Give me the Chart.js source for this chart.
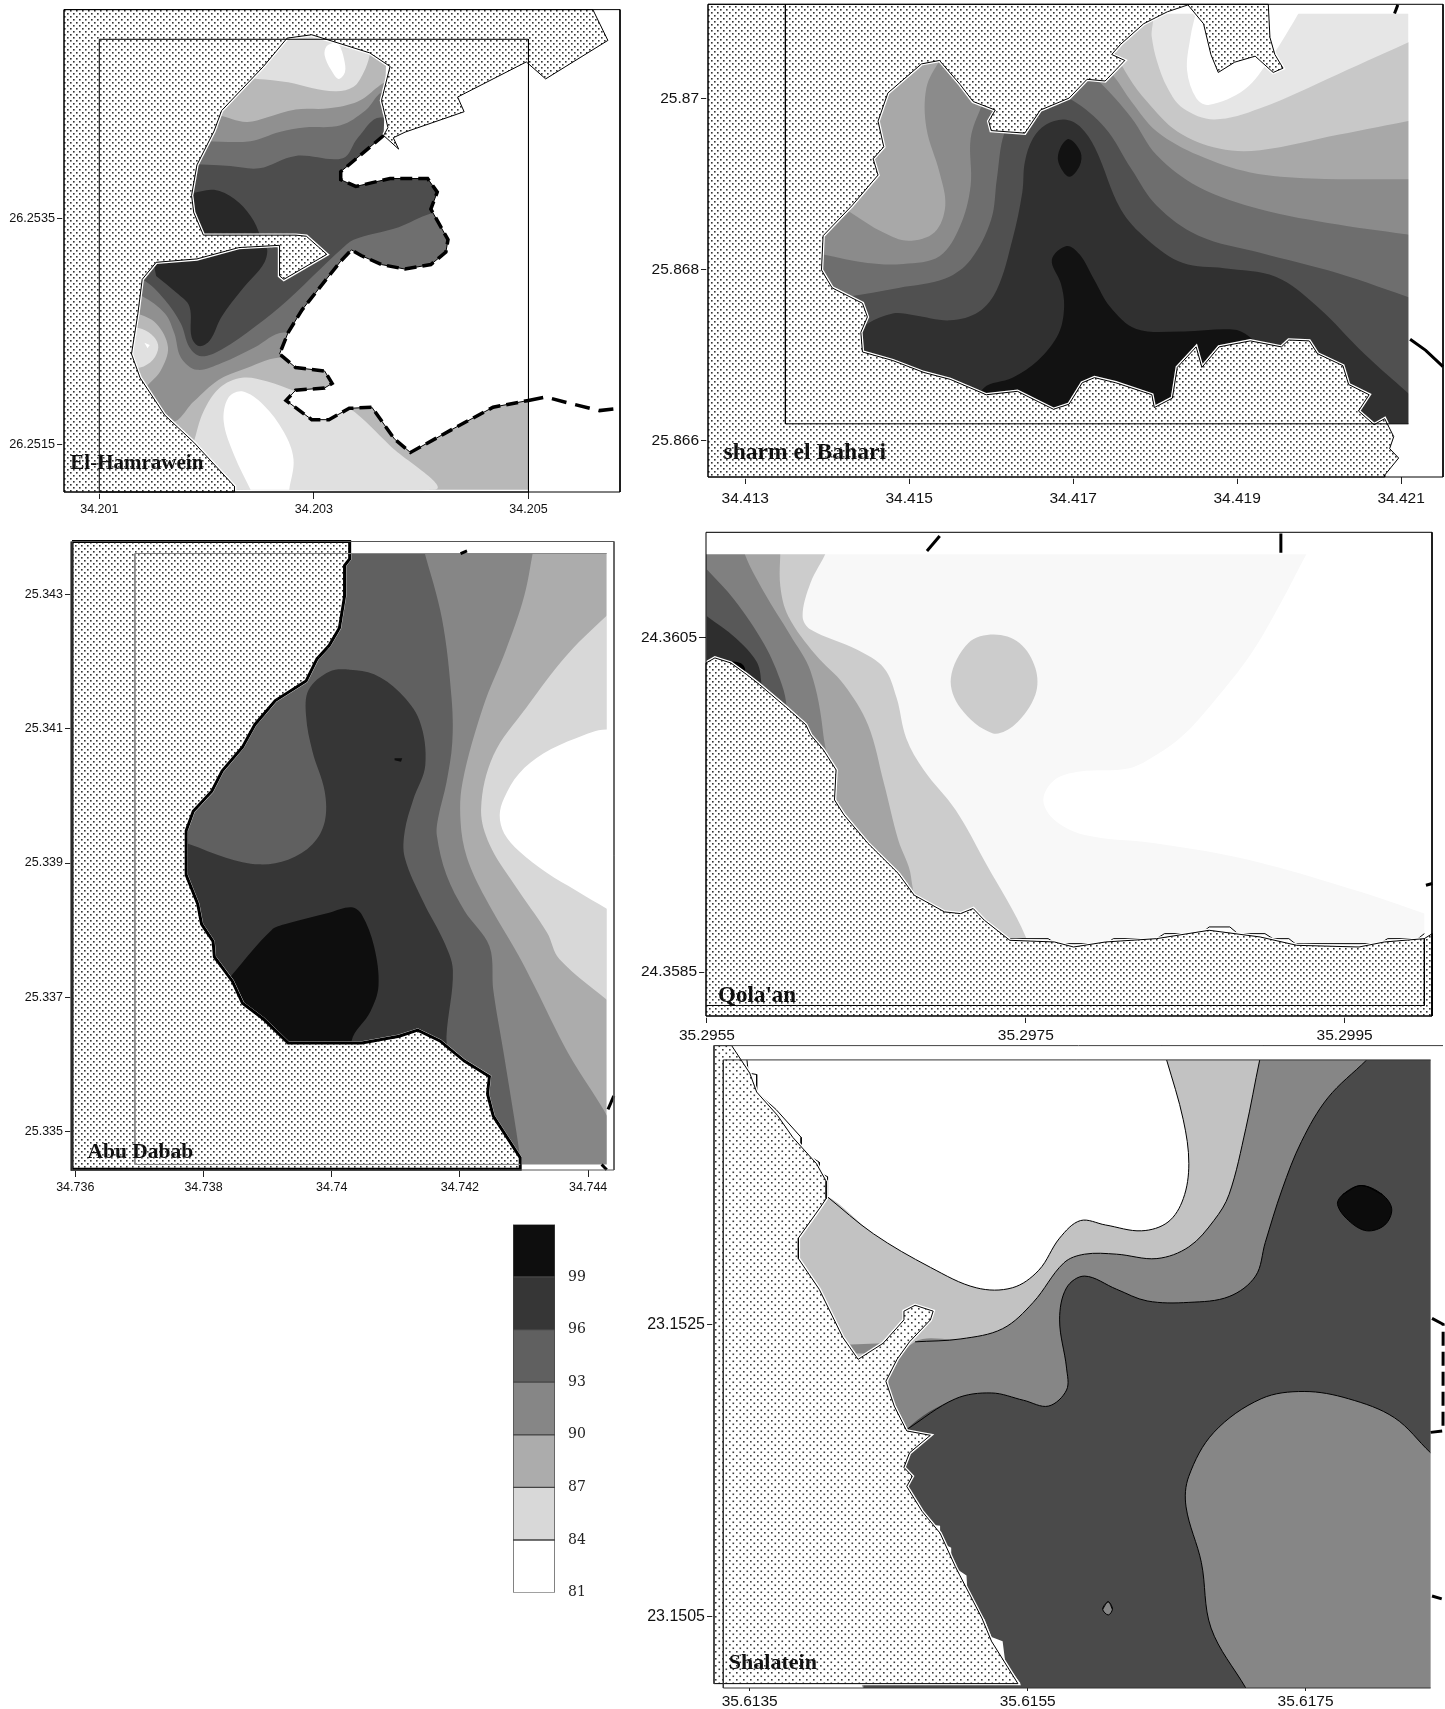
<!DOCTYPE html>
<html><head><meta charset="utf-8">
<script src="https://cdn.jsdelivr.net/npm/chart.js@4"></script>
<style>html,body{margin:0;padding:0;background:#fff;width:1445px;height:1709px;overflow:hidden}canvas{position:absolute}</style>
</head><body>
<script>
// All shape values: [lon, lat] in thousandths of a degree from each map's base point.
// ---------- El-Hamrawein ----------
const hamLonTicks=['34.201','34.203','34.205'], hamLatTicks=['26.2515','26.2535'];
const hamLand=[[.671,5.342],[5.6,5.342],[5.74,5.07],[5.16,4.73],[4.98,4.88],[4.34,4.57],[4.4,4.44],[3.85,4.26],[3.74,4.21],[3.79,4.11],[3.65,4.23],[3.69,4.3],[3.63,4.54],[3.71,4.84],[3.52,4.96],[2.98,5.12],[2.75,5.09],[2.53,4.84],[2.14,4.45],[2.07,4.27],[1.91,3.97],[1.86,3.7],[1.88,3.55],[1.97,3.35],[2.83,3.35],[2.93,3.34],[3.12,3.18],[2.72,2.96],[2.68,2.99],[2.68,3.26],[2.3,3.24],[1.91,3.14],[1.53,3.11],[1.4,2.96],[1.36,2.66],[1.3,2.3],[1.38,2.09],[1.61,1.76],[1.88,1.52],[2.26,1.13],[2.26,1.081],[.671,1.081]];
const hamCoast=[[3.65,4.23],[3.25,3.91],[3.25,3.84],[3.39,3.78],[3.71,3.85],[4.06,3.85],[4.15,3.73],[4.09,3.58],[4.25,3.31],[4.23,3.2],[4.09,3.09],[3.85,3.05],[3.63,3.09],[3.44,3.17],[3.35,3.22],[3.25,3.12],[3.04,2.87],[2.89,2.69],[2.76,2.49],[2.68,2.3],[2.83,2.18],[3.1,2.15],[3.17,2.04],[3.1,2],[2.83,1.98],[2.74,1.89],[2.98,1.72],[3.14,1.72],[3.33,1.82],[3.54,1.83],[3.75,1.55],[3.9,1.43],[4.28,1.63],[4.67,1.83],[5,1.89]];
const hamCoastEast=[[5,1.89],[5.16,1.92],[5.36,1.87],[5.66,1.8],[5.853,1.82]];
const hamSeaClosure=[[5,1.081],[5.853,1.081],[5.853,5.342],[3.69,5.342]];
const hamBase=[[1.23,5.23],[5,5.23],[5,1.1],[1.23,1.1]];
const hamN84=[[2.22,4.72],[2.47,4.73],[2.76,4.7],[2.98,4.65],[3.21,4.62],[3.37,4.66],[3.46,4.78],[3.52,4.94],[3.54,5.14],[2.76,5.2],[2.22,5.11]];
const hamNWhite=[[3.2,5.05],[3.12,5.02],[3.1,4.94],[3.16,4.81],[3.23,4.73],[3.29,4.79],[3.28,4.91],[3.24,5.02]];
const hamS84=[[1.88,1.52],[1.97,1.79],[2.12,2],[2.33,2.09],[2.56,2.06],[2.83,1.97],[3.14,1.86],[3.33,1.82],[3.71,1.49],[4.13,1.1],[1.76,1.1]];
const hamSWhite=[[2.41,1.1],[2.26,1.4],[2.16,1.7],[2.2,1.91],[2.33,1.97],[2.53,1.85],[2.72,1.61],[2.81,1.37],[2.77,1.1]];
const hamW84=[[1.26,2.54],[1.4,2.52],[1.51,2.45],[1.55,2.36],[1.5,2.25],[1.38,2.18],[1.24,2.18]];
const hamWWhite=[[1.42,2.4],[1.47,2.38],[1.45,2.35]];
const ham90=[[1.99,4.42],[2.11,4.41],[2.37,4.35],[2.56,4.39],[2.83,4.46],[3.14,4.47],[3.41,4.53],[3.75,4.72],[5.05,4.51],[5.05,2.42],[2.68,2.27],[2.33,2.16],[2.11,2.07],[1.88,1.88],[1.68,1.7],[1.38,1.91],[1.44,2.01],[1.57,2.15],[1.64,2.36],[1.53,2.57],[1.34,2.66],[1.03,2.72],[1.03,4.39]];
const ham93=[[1.99,4.18],[2.41,4.18],[2.68,4.26],[2.91,4.3],[3.25,4.32],[3.48,4.45],[3.67,4.62],[5.05,4.51],[5.05,2.42],[2.72,2.49],[2.45,2.36],[2.14,2.22],[1.91,2.16],[1.76,2.27],[1.7,2.48],[1.61,2.66],[1.4,2.81],[1.03,2.96],[1.03,4.15]];
const ham96=[[1.8,3.98],[2.22,3.96],[2.49,3.94],[2.83,4.05],[3.27,4.03],[3.41,4.21],[3.62,4.39],[4.28,4.21],[4.48,3.61],[4.09,3.54],[3.79,3.42],[3.37,3.31],[3.25,3.22],[3.06,3.05],[2.76,2.78],[2.45,2.54],[2.14,2.34],[1.95,2.28],[1.84,2.36],[1.76,2.57],[1.61,2.78],[1.4,2.96],[1.03,3.08],[1.03,3.97]];
const ham99N=[[1.72,3.7],[1.86,3.72],[2.07,3.75],[2.26,3.67],[2.41,3.52],[2.5,3.34],[2.5,3.25],[1.72,3.25]];
const ham99S=[[1.49,3.17],[2.54,3.25],[2.54,3.11],[2.33,2.87],[2.14,2.63],[2.03,2.42],[1.93,2.37],[1.86,2.45],[1.84,2.72],[1.72,2.84],[1.53,2.99]];
const hamGrid=[[1,5.08],[5,5.08],[5,1.081],[1,1.081],[1,5.08]];
// ---------- Sharm el Bahari ----------
const shaLonTicks=['34.413','34.415','34.417','34.419','34.421'], shaLatTicks=['25.866','25.868','25.87'];
const shaLand=[[2.546,11.107],[9.38,11.107],[9.4,10.72],[9.46,10.52],[9.56,10.36],[9.44,10.31],[9.22,10.5],[8.97,10.43],[8.77,10.31],[8.68,10.52],[8.59,10.88],[8.4,11.1],[8.15,11.02],[7.86,10.88],[7.58,10.64],[7.47,10.52],[7.63,10.45],[7.39,10.21],[7.17,10.23],[6.95,10.01],[6.6,9.87],[6.41,9.6],[6,9.63],[5.97,9.74],[6.05,9.87],[5.78,9.97],[5.62,10.17],[5.37,10.45],[5.15,10.41],[4.74,10.07],[4.62,9.74],[4.69,9.44],[4.56,9.3],[4.62,9.11],[4.3,8.75],[3.95,8.4],[3.93,8],[4.06,7.79],[4.43,7.61],[4.49,7.45],[4.41,7.27],[4.43,7.04],[4.8,6.94],[5.18,6.8],[5.5,6.72],[5.94,6.54],[6.32,6.58],[6.76,6.37],[6.95,6.43],[7.11,6.68],[7.26,6.74],[7.52,6.68],[7.96,6.54],[7.99,6.39],[8.21,6.5],[8.27,6.86],[8.5,7.1],[8.57,6.86],[8.78,7.1],[9.16,7.17],[9.54,7.1],[9.63,7.18],[9.88,7.17],[9.98,7.02],[10.29,6.88],[10.36,6.66],[10.61,6.54],[10.48,6.35],[10.67,6.19],[10.8,6.26],[10.91,6.05],[10.86,5.91],[10.97,5.8],[10.8,5.6],[10.8,5.578],[2.546,5.578]];
const shaBase=[[3.49,11],[11.09,11],[11.09,6.2],[3.49,6.2]];
const shaWhite=[[8.5,11.02],[8.43,10.72],[8.39,10.33],[8.5,10.01],[8.65,9.93],[9.09,10.11],[9.41,10.48],[9.6,10.76],[9.76,11.02]];
const sha84=[[11.18,10.7],[10.23,10.29],[9.28,9.89],[8.72,9.76],[8.34,9.89],[8.15,10.13],[8.02,10.45],[7.96,10.72],[7.93,11.04],[6.13,11.04],[3.61,11.04],[3.61,5.99],[11.18,5.99]];
const sha87=[[11.18,9.76],[10.23,9.58],[9.28,9.4],[8.78,9.42],[8.27,9.62],[7.9,9.97],[7.68,10.25],[7.49,10.6],[7.39,10.88],[6.13,10.88],[3.61,10.88],[3.61,5.99],[11.18,5.99]];
const sha90=[[11.18,9.06],[9.91,9.07],[9.16,9.14],[8.53,9.34],[8.02,9.62],[7.71,9.97],[7.49,10.27],[7.27,10.45],[5.5,10.64],[5.37,10.45],[5.21,10.13],[5.21,9.66],[5.37,9.14],[5.44,8.75],[5.31,8.44],[4.99,8.34],[4.68,8.44],[4.29,8.67],[3.92,8.91],[3.61,8.91],[3.61,5.99],[11.18,5.99]];
const sha93=[[11.18,8.4],[10.23,8.53],[9.28,8.71],[8.53,8.97],[8.02,9.34],[7.71,9.78],[7.33,10.19],[7.08,10.37],[6,10.13],[5.88,9.91],[5.75,9.54],[5.75,8.99],[5.62,8.51],[5.37,8.16],[4.93,8.07],[4.49,8.08],[3.95,8.18],[3.61,8.24],[3.61,5.99],[11.18,5.99]];
const sha96=[[11.18,7.65],[10.23,7.96],[9.28,8.2],[8.53,8.4],[8.02,8.75],[7.71,9.18],[7.39,9.66],[6.98,9.99],[6.7,10.05],[6.32,9.78],[6.16,9.6],[6.07,9.07],[6,8.59],[5.75,8.12],[5.44,7.9],[4.87,7.79],[4.27,7.69],[3.61,7.61],[3.61,5.99],[11.18,5.99]];
const sha99=[[11.18,6.48],[10.55,7.02],[9.98,7.57],[9.47,7.92],[8.84,8.02],[8.34,8.08],[7.9,8.36],[7.58,8.71],[7.27,9.42],[7.08,9.68],[6.89,9.76],[6.67,9.7],[6.51,9.54],[6.41,9.26],[6.38,8.91],[6.26,8.36],[6.07,7.77],[5.85,7.51],[5.5,7.41],[5.06,7.47],[4.8,7.49],[4.49,7.37],[4.24,7.17],[4.24,5.99],[11.18,5.99]];
const shaSpot=[[6.95,9.53],[6.84,9.42],[6.82,9.26],[6.95,9.09],[7.08,9.22],[7.09,9.38]];
const sha102=[[6.92,8.28],[6.74,8.12],[6.85,7.84],[6.89,7.57],[6.82,7.25],[6.57,6.94],[6.26,6.74],[5.91,6.62],[5.81,6.31],[8.65,6.31],[9.28,7.06],[9.16,7.21],[8.97,7.3],[8.34,7.28],[7.77,7.31],[7.45,7.57],[7.26,7.88],[7.08,8.18]];
const shaMaskR=[[11.09,11.107],[11.511,11.107],[11.511,5.578],[11.09,5.578]];
const shaMaskT=[[2.546,11.107],[11.511,11.107],[11.511,11],[2.546,11]];
const shaMaskB=[[2.546,6.2],[11.511,6.2],[11.511,5.578],[2.546,5.578]];
const shaGrid=[[3.49,11.107],[3.49,6.2],[11.09,6.2]];
const shaRoadA=[[10.96,11.1],[10.92,11]], shaRoadB=[[11.11,7.19],[11.3,7.06],[11.511,6.87]];
// ---------- Abu Dabab ----------
const abuLonTicks=['34.736','34.738','34.74','34.742','34.744'], abuLatTicks=['25.335','25.337','25.339','25.341','25.343'];
const abuLand=[[5.949,13.789],[10.28,13.789],[10.28,13.53],[10.2,13.43],[10.2,12.97],[10.12,12.5],[9.96,12.24],[9.77,12.04],[9.6,11.71],[9.12,11.42],[8.8,11.06],[8.61,10.73],[8.29,10.37],[8.13,10.07],[7.84,9.77],[7.73,9.48],[7.73,8.82],[7.91,8.39],[7.97,8.09],[8.15,7.83],[8.17,7.6],[8.45,7.24],[8.61,6.91],[8.93,6.68],[9.32,6.32],[10.47,6.32],[11.05,6.42],[11.34,6.51],[11.69,6.35],[12.07,6.05],[12.46,5.82],[12.43,5.56],[12.52,5.23],[12.94,4.61],[12.94,4.44],[5.949,4.44]];
const abuBase=[[6.93,13.61],[14.29,13.61],[14.29,4.51],[6.93,4.51]];
const abu84=[[14.45,12.83],[13.68,12.11],[13.04,11.32],[12.52,10.6],[12.33,9.81],[12.46,9.28],[12.84,8.69],[13.36,7.96],[13.55,7.57],[14.45,6.84]];
const abu81=[[14.8,10.85],[14.29,10.99],[13.81,10.86],[13.3,10.63],[12.92,10.33],[12.69,9.97],[12.62,9.71],[12.69,9.44],[12.92,9.18],[13.36,8.85],[13.81,8.59],[14.29,8.32],[14.8,8.05]];
const abu90=[[13.15,13.69],[13,12.97],[12.72,12.18],[12.36,11.32],[12.04,10.2],[12.01,9.61],[12.11,9.08],[12.39,8.49],[12.91,7.63],[13.16,7.17],[13.68,6.18],[14.45,4.93],[14.45,4.41],[6.11,4.41],[6.11,13.69]];
const abu93=[[11.43,13.69],[11.72,12.64],[11.87,11.45],[11.88,10.79],[11.79,10.2],[11.66,9.67],[11.64,9.41],[11.79,8.82],[12.07,8.29],[12.46,7.76],[12.52,7.11],[12.68,6.18],[12.94,4.61],[12.94,4.41],[6.11,4.41],[6.11,13.69]];
const abu96=[[10.28,11.88],[9.96,11.85],[9.64,11.58],[9.6,11.19],[9.7,10.66],[9.89,10.07],[9.89,9.61],[9.7,9.28],[9.32,9.05],[8.87,8.98],[8.35,9.08],[7.78,9.28],[7.07,9.48],[7.07,5.53],[11.79,5.53],[11.79,6.42],[11.89,7.4],[11.75,7.83],[11.43,8.42],[11.14,9.08],[11.14,9.48],[11.27,9.94],[11.46,10.46],[11.37,11.12],[11.05,11.55],[10.66,11.81]];
const abu99=[[10.31,8.34],[9.96,8.26],[9.28,8.09],[9.06,8],[8.45,7.34],[8.03,6.84],[9,5.53],[10.31,5.53],[10.31,6.35],[10.6,6.78],[10.73,7.17],[10.66,7.76],[10.47,8.23]];
const abuSpeck=[[10.98,10.56],[11.1,10.56],[11.08,10.51],[10.98,10.53]];
const abuMaskR=[[14.29,13.789],[14.403,13.789],[14.403,4.427],[14.29,4.427]];
const abuMaskT=[[5.949,13.789],[14.403,13.789],[14.403,13.61],[5.949,13.61]];
const abuMaskB=[[5.949,4.51],[14.403,4.51],[14.403,4.427],[5.949,4.427]];
const abuGrid=[[14.29,13.61],[6.93,13.61],[6.93,4.51],[12.94,4.51]];
const abuRoadA=[[12.01,13.61],[12.11,13.65]], abuRoadB=[[14.4,5.53],[14.31,5.33]], abuRoadC=[[14.21,4.51],[14.29,4.43]];
// ---------- Qola'an ----------
const qolLonTicks=['35.2955','35.2975','35.2995'], qolLatTicks=['24.3585','24.3605'];
const qolLand=[[5.494,10.35],[5.55,10.38],[5.65,10.35],[5.75,10.28],[5.83,10.22],[5.99,10.09],[6.12,9.98],[6.15,9.92],[6.23,9.83],[6.31,9.71],[6.3,9.53],[6.36,9.44],[6.51,9.27],[6.7,9.09],[6.8,8.96],[6.99,8.86],[7.09,8.85],[7.17,8.88],[7.24,8.81],[7.4,8.69],[7.68,8.68],[7.8,8.65],[8,8.68],[8.32,8.7],[8.65,8.75],[8.97,8.71],[9.2,8.66],[9.59,8.65],[9.75,8.68],[10,8.7],[10.05,8.73],[10.048,8.237],[5.494,8.237]];
const qol84=[[5.5,11.15],[9.38,11.2],[9.26,11],[9.1,10.71],[8.91,10.4],[8.68,10.12],[8.49,9.92],[8.32,9.8],[8.15,9.72],[7.84,9.7],[7.68,9.65],[7.61,9.53],[7.68,9.41],[7.87,9.32],[8.32,9.27],[8.81,9.19],[9.36,9.05],[10,8.85],[10.2,8.75],[10.2,8.58],[5.5,8.58]];
const qol87=[[6.3,11.2],[6.25,11.02],[6.15,10.83],[6.1,10.63],[6.15,10.55],[6.44,10.43],[6.61,10.32],[6.69,10.14],[6.75,9.9],[6.86,9.71],[7.06,9.47],[7.25,9.15],[7.5,8.71],[7.5,8.58],[5.5,8.58],[5.5,11.2]];
const qolOval=[[7.3,10.52],[7.14,10.47],[7.03,10.26],[7.09,10.08],[7.29,9.93],[7.43,9.98],[7.56,10.16],[7.56,10.32],[7.46,10.47]];
const qol90=[[5.96,11.2],[5.96,11.02],[5.96,10.81],[6.01,10.63],[6.18,10.4],[6.36,10.22],[6.51,9.98],[6.61,9.63],[6.7,9.29],[6.78,9.07],[6.78,8.58],[5.5,8.58],[5.5,11.2]];
const qol93=[[5.7,11.2],[5.73,11.02],[5.86,10.77],[6.02,10.52],[6.15,10.3],[6.23,9.92],[6.23,9.59],[5.5,9.59],[5.5,11.2]];
const qol96=[[5.5,10.91],[5.67,10.73],[5.86,10.46],[5.97,10.22],[6,10.08],[6,9.8],[5.5,9.8]];
const qol99=[[5.5,10.63],[5.68,10.5],[5.81,10.36],[5.84,10.24],[5.84,10],[5.5,10]];
const qol102=[[5.62,10.36],[5.71,10.35],[5.74,10.31],[5.71,10.26],[5.62,10.26]];
const qolStep=[[7.4,8.7],[7.64,8.7],[7.69,8.67],[8,8.67],[8.05,8.7],[8.32,8.7],[8.37,8.73],[8.6,8.73],[8.65,8.77],[8.78,8.77],[8.83,8.73],[9,8.73],[9.05,8.7],[9.15,8.7],[9.19,8.67],[9.64,8.67],[9.72,8.67],[9.77,8.7],[9.96,8.7],[10,8.73]];
const qolStepClose=[[10,8.58],[7.4,8.58]];
const qolMaskT=[[5.494,11.132],[10.048,11.132],[10.048,11],[5.494,11]];
const qolMaskR=[[10,11.132],[10.048,11.132],[10.048,8.237],[10,8.237]];
const qolGrid=[[10,8.7],[10,8.3],[5.5,8.3]];
const qolRoadA=[[6.88,11.02],[6.96,11.11]], qolRoadB=[[9.1,11.125],[9.1,11.01]], qolRoadC=[[10.01,9.02],[10.05,9.03]];
// ---------- Shalatein ----------
const shlLonTicks=['35.6135','35.6155','35.6175'], shlLatTicks=['23.1505','23.1525'];
const shlLand=[[3.243,4.408],[3.37,4.408],[3.5,4.22],[3.55,4.09],[3.7,3.93],[3.81,3.78],[3.98,3.6],[4.05,3.48],[4.05,3.36],[4,3.29],[3.85,3.09],[3.85,2.95],[4,2.74],[4.17,2.41],[4.28,2.26],[4.46,2.37],[4.61,2.53],[4.61,2.59],[4.69,2.63],[4.82,2.59],[4.8,2.53],[4.65,2.38],[4.56,2.26],[4.48,2.11],[4.54,1.94],[4.63,1.77],[4.8,1.74],[4.65,1.62],[4.61,1.52],[4.67,1.46],[4.63,1.39],[4.74,1.22],[4.87,1.07],[4.98,.84],[5.17,.49],[5.24,.33],[5.43,.04],[3.243,.04]];
const shl84=[[6.46,4.42],[6.5,4.31],[6.62,3.9],[6.66,3.6],[6.62,3.36],[6.51,3.2],[6.32,3.14],[6.06,3.18],[5.88,3.21],[5.73,3.09],[5.58,2.87],[5.39,2.75],[5.13,2.75],[4.8,2.89],[4.39,3.12],[4.05,3.38]];
const shl84Close=[[3.83,3.39],[3.83,1.52],[8.6,-.2],[8.6,4.5]];
const shl90=[[7.2,4.42],[7.17,4.31],[7.07,3.84],[6.95,3.39],[6.84,3.21],[6.66,3.03],[6.43,2.95],[6.14,2.98],[5.91,2.98],[5.76,2.92],[5.54,2.65],[5.32,2.47],[5.02,2.4],[4.69,2.38]];
const shl90Close=[[4.5,2.11],[4.5,-.2],[8.6,-.2],[8.6,4.5]];
const shl90Cove=[[4.18,2.36],[4.46,2.37],[4.37,2.3],[4.26,2.3]];
const shl96=[[8.05,4.42],[7.94,4.31],[7.66,4.05],[7.47,3.75],[7.33,3.42],[7.21,3.06],[7.14,2.83],[6.95,2.69],[6.66,2.65],[6.36,2.66],[6.14,2.74],[5.91,2.83],[5.78,2.75],[5.73,2.53],[5.78,2.2],[5.78,2.05],[5.65,1.94],[5.47,1.98],[5.24,2.03],[4.98,1.99],[4.63,1.78]];
const shl96Close=[[4.5,1.52],[4.5,-.2],[8.6,-.2],[8.6,4.5]];
const shlSE=[[8.66,1.4],[8.4,1.62],[8.14,1.86],[7.81,1.99],[7.49,2.04],[7.18,1.99],[6.84,1.76],[6.66,1.46],[6.64,1.25],[6.75,.87],[6.82,.42],[7.07,.01],[7.2,-.2]];
const shlSEClose=[[8.7,-.2]];
const shlDiamond=[[6.08,.6],[6.11,.55],[6.08,.51],[6.04,.55]];
const shlBlack=[[7.9,3.45],[7.77,3.39],[7.73,3.32],[7.81,3.21],[7.94,3.14],[8.07,3.18],[8.12,3.29],[8.05,3.39]];
const shlStep=[[4.65,1.37],[4.7,1.25],[4.8,1.13],[4.87,1.12],[4.87,1.01],[4.95,.97],[4.95,.85],[5.06,.78],[5.07,.61],[5.19,.48],[5.24,.36],[5.32,.33],[5.34,.18],[5.45,.04],[4.57,.04],[4.57,1.37]];
const shlStepNorth=[[3.48,4.31],[3.49,4.22],[3.55,4.21],[3.55,4.09],[3.69,3.97],[3.87,3.78],[3.87,3.69],[4,3.61],[4,3.54],[4.06,3.51],[4.06,3.38]];
const shlMaskR=[[8.4,4.408],[8.489,4.408],[8.489,.01],[8.4,.01]];
const shlMaskT=[[3.243,4.408],[8.489,4.408],[8.489,4.31],[3.243,4.31]];
const shlGrid=[[8.4,4.31],[3.31,4.31],[3.31,.01],[8.4,.01]];
const shlFrame=[[8.489,4.408],[3.243,4.408],[3.243,.04]];
const shlRoadA=[[8.41,2.54],[8.49,2.5],[8.489,1.77],[8.4,1.76]], shlRoadB=[[8.41,.64],[8.48,.62]];
// ---------- Scale ----------
const scaleBins=[[81,84],[84,87],[87,90],[90,93],[93,96],[96,99],[99,102]];
const scaleTicks=[81,84,87,90,93,96,99];
const scaleColors=['#ffffff','#d8d8d8','#acacac','#868686','#606060','#363636','#0e0e0e'];

function mkPattern(n,col){const c=document.createElement('canvas');c.width=n;c.height=n;const x=c.getContext('2d');
 x.fillStyle='#fff';x.fillRect(0,0,n,n);x.fillStyle=col;x.fillRect(1,1,1.6,1.6);x.fillRect(1+n/2,1+n/2,1.6,1.6);
 return x.createPattern(c,'repeat');}
const stipple=mkPattern(6,'#333'), stippleWide=mkPattern(7,'#3a3a3a');
function pts(a,b){return a.map(p=>({x:b[0]+p[0]/1000,y:b[1]+p[1]/1000}));}
const O=a=>[a[a.length-1],...a,a[0],a[1]];
const F=(a,c,t=.35)=>({a,fill:'shape',backgroundColor:c,borderWidth:0,tension:t});
const L=(a,c,w=1,d=[],t=0)=>({a,fill:false,borderColor:c,borderWidth:w,borderDash:d,tension:t,clip:6});
const LAND=(a,w=1,p=stipple)=>[L(a.concat([a[0]]),'#fff',3.5),{a:a.concat([a[0]]),fill:'shape',backgroundColor:p,borderColor:'#000',borderWidth:w,tension:0,clip:4}];
function panel(cfg){
 const [l,t,r,b]=cfg.box, YW=70, XH=34, PAD=8;
 const c=document.createElement('canvas');
 c.width=YW+(r-l)+PAD; c.height=PAD+(b-t)+XH;
 c.style.left=(l-YW)+'px'; c.style.top=(t-PAD)+'px'; c.style.width=c.width+'px'; c.style.height=c.height+'px';
 document.body.appendChild(c);
 const B=cfg.base, xr=cfg.xr, yr=cfg.yr;
 const frame=cfg.frame||[[xr[0],yr[1]],[xr[1],yr[1]],[xr[1],yr[0]],[xr[0],yr[0]],[xr[0],yr[1]]];
 const layers=cfg.layers.concat([L(frame,cfg.frameColor||'#000',1)]);
 const ds=layers.map(o=>{const {a,...rest}=o;return Object.assign({data:pts(a,B),showLine:true,pointRadius:0,pointHoverRadius:0},rest);}).reverse();
 const tickOpts=(labels,size,pad)=>({autoSkip:false,maxRotation:0,minRotation:0,padding:pad,color:'#111',font:{family:'"Liberation Sans"',size},callback:(v,i)=>labels[i]});
 const grid=n=>({drawOnChartArea:false,drawTicks:true,tickLength:n,tickColor:'#222'});
 const label={id:'siteLabel',afterDatasetsDraw(ch){const g=ch.ctx;g.save();g.font='bold '+cfg.label.size+'px "Liberation Serif"';g.fillStyle='#111';g.textBaseline='alphabetic';
   g.fillText(cfg.label.text,ch.scales.x.getPixelForValue(B[0]+cfg.label.at[0]/1000),ch.scales.y.getPixelForValue(B[1]+cfg.label.at[1]/1000));g.restore();}};
 new Chart(c,{type:'scatter',data:{datasets:ds},plugins:[label],options:{responsive:false,animation:false,events:[],devicePixelRatio:1,
  layout:{padding:{top:PAD,right:PAD,left:0,bottom:0}},
  plugins:{legend:{display:false},tooltip:{enabled:false}},
  scales:{
   x:{type:'linear',bounds:'data',min:B[0]+xr[0]/1000,max:B[0]+xr[1]/1000,border:{display:false},grid:grid(cfg.xl||7),ticks:tickOpts(cfg.xt,cfg.fx,cfg.xp===undefined?3:cfg.xp),
      afterBuildTicks:s=>{s.ticks=cfg.xt.map(v=>({value:parseFloat(v)}));},afterFit:s=>{s.height=XH;}},
   y:{type:'linear',bounds:'data',min:B[1]+yr[0]/1000,max:B[1]+yr[1]/1000,border:{display:false},grid:grid(7),ticks:tickOpts(cfg.yt,cfg.fy,2),
      afterBuildTicks:s=>{s.ticks=cfg.yt.map(v=>({value:parseFloat(v)}));},afterFit:s=>{s.width=YW;}}
  }}});
}
const hamC=['#ffffff','#e0e0e0','#b8b8b8','#909090','#6f6f6f','#4d4d4d','#282828'];
panel({box:[64,8,620,492],base:[34.2,26.25],xr:[.671,5.853],yr:[1.081,5.342],xt:hamLonTicks,yt:hamLatTicks,fx:12.5,fy:12.7,
 label:{text:'El-Hamrawein',at:[.73,1.28],size:21},
 layers:[F(hamBase,hamC[2],0),F(hamN84,hamC[1]),F(O(hamNWhite),hamC[0]),F(hamS84,hamC[1]),F(hamSWhite,hamC[0]),F(hamW84,hamC[1]),F(hamWWhite,hamC[0],0),
  F(ham90,hamC[3]),F(ham93,hamC[4]),F(ham96,hamC[5]),F(ham99N,hamC[6]),F(ham99S,hamC[6]),
  F(hamCoast.concat(hamSeaClosure),'#fff',0),...LAND(hamLand),L(hamGrid,'#000',1),
  L(hamCoast,'#000',1),L(hamCoast,'#000',3.5,[12,6]),L(hamCoastEast,'#000',3.5,[15,9])]});
const shaC=['#ffffff','#e6e6e6','#c8c8c8','#a8a8a8','#8b8b8b','#6e6e6e','#505050','#303030','#121212'];
panel({box:[708,1,1443,477],base:[34.41,25.86],xr:[2.546,11.511],yr:[5.578,11.107],xt:shaLonTicks,yt:shaLatTicks,fx:15.5,fy:15.5,xp:5,
 label:{text:'sharm el Bahari',at:[2.735,5.79],size:23.6},
 layers:[F(shaBase,shaC[1],0),F(shaWhite,shaC[0]),F(sha84,shaC[2]),F(sha87,shaC[3]),F(sha90,shaC[4]),F(sha93,shaC[5]),F(sha96,shaC[6]),F(sha99,shaC[7]),F(O(shaSpot),shaC[8]),F(O(sha102),shaC[8]),
  F(shaMaskR,'#fff',0),F(shaMaskT,'#fff',0),F(shaMaskB,'#fff',0),...LAND(shaLand),L(shaGrid,'#000',1),L(shaRoadA,'#000',3),L(shaRoadB,'#000',3)]});
panel({box:[72,540,614,1170],base:[34.73,25.33],xr:[5.949,14.403],yr:[4.427,13.789],xt:abuLonTicks,yt:abuLatTicks,fx:12.5,fy:12.5,frameColor:'#555',
 label:{text:'Abu Dabab',at:[6.19,4.6],size:21.5},
 layers:[F(abuBase,scaleColors[2],0),F(abu84,scaleColors[1]),F(abu81,scaleColors[0]),F(abu90,scaleColors[3]),F(abu93,scaleColors[4]),F(O(abu96),scaleColors[5]),F(O(abu99),scaleColors[6]),F(abuSpeck,scaleColors[6],0),
  F(abuMaskR,'#fff',0),F(abuMaskT,'#fff',0),F(abuMaskB,'#fff',0),...LAND(abuLand,3),L(abuGrid,'#888',1),L(abuRoadA,'#000',3),L(abuRoadB,'#000',3),L(abuRoadC,'#000',3)]});
const qolC=['#ffffff','#f8f8f8','#cccccc','#a4a4a4','#808080','#585858','#2e2e2e','#000000'];
panel({box:[706,529,1432,1016],base:[35.29,24.35],xr:[5.494,10.048],yr:[8.237,11.132],xt:qolLonTicks,yt:qolLatTicks,fx:15.5,fy:15.5,
 label:{text:"Qola'an",at:[5.57,8.32],size:23},
 layers:[F(qol84,qolC[1]),F(qol87,qolC[2]),F(O(qolOval),qolC[2]),F(qol90,qolC[3]),F(qol93,qolC[4]),F(qol96,qolC[5]),F(qol99,qolC[6]),F(qol102,qolC[7]),
  F(qolMaskT,'#fff',0),F(qolMaskR,'#fff',0),F(qolStep.concat(qolStepClose),'#fff',0),L(qolStep,'#000',1),...LAND(qolLand),L(qolGrid,'#000',1),L(qolRoadA,'#000',3),L(qolRoadB,'#000',3),L(qolRoadC,'#000',3)]});
const shlC=['#ffffff','#c2c2c2','#868686','#4a4a4a','#0c0c0c'];
const C=(a,close,col)=>[F(a.concat(close),col),{...L(a,'#000',1,[],.35),clip:0}];
panel({box:[714,1042,1443,1688],base:[35.61,23.15],xr:[3.243,8.489],yr:[.01,4.408],xt:shlLonTicks,yt:shlLatTicks,fx:15.5,fy:16,xl:3,xp:1,frame:shlFrame,frameColor:'#444',
 label:{text:'Shalatein',at:[3.35,.14],size:22},
 layers:[...C(shl84,shl84Close,shlC[1]),F(shl90Cove,shlC[2],0),...C(shl90,shl90Close,shlC[2]),...C(shl96,shl96Close,shlC[3]),...C(shlSE,shlSEClose,shlC[2]),
  F(O(shlDiamond),shlC[2]),L(O(shlDiamond),'#000',1,[],.35),F(O(shlBlack),shlC[4]),L(O(shlBlack),'#000',1,[],.35),
  F(shlMaskR,'#fff',0),F(shlMaskT,'#fff',0),F(shlStep,'#fff',0),L(shlStepNorth,'#000',1),...LAND(shlLand,1,stippleWide),L(shlGrid,'#333',1),L(shlRoadA,'#000',3,[14,6]),L(shlRoadB,'#000',3)]});
// colour scale
(function(){
 const c=document.createElement('canvas');c.width=90;c.height=395;c.style.left='512px';c.style.top='1211px';c.style.width='90px';c.style.height='395px';document.body.appendChild(c);
 new Chart(c,{type:'bar',data:{labels:[''],datasets:scaleBins.map((b,i)=>({data:[b],grouped:false,barPercentage:1,categoryPercentage:1,backgroundColor:scaleColors[i],borderColor:'#444',borderWidth:1,borderSkipped:false}))},
 options:{responsive:false,animation:false,events:[],devicePixelRatio:1,layout:{padding:{top:10,bottom:10,left:1,right:0}},plugins:{legend:{display:false},tooltip:{enabled:false}},
 scales:{x:{display:false},y:{position:'right',min:81,max:102,bounds:'data',border:{display:false},grid:{display:false},
   ticks:{autoSkip:false,padding:5,color:'#222',font:{family:'"DejaVu Serif"',size:14},callback:v=>String(v)},
   afterBuildTicks:s=>{s.ticks=scaleTicks.map(v=>({value:v}));},afterFit:s=>{s.width=47;}}}}});
})();
</script>
</body></html>
